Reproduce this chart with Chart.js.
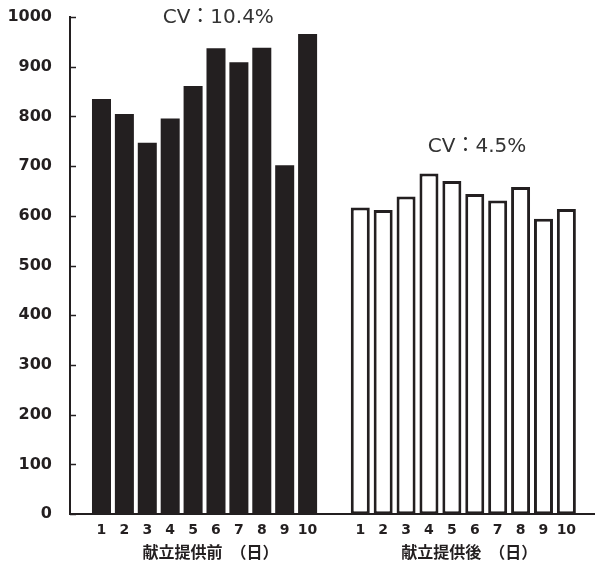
<!DOCTYPE html>
<html>
<head>
<meta charset="utf-8">
<script src="https://cdn.jsdelivr.net/npm/chart.js@4/dist/chart.umd.min.js"></script>
<style>
    html, body { margin: 0; padding: 0; background: #fff; }
    #wrap { width: 595px; height: 569px; }
</style>
</head>
<body>
<div id="wrap"><canvas id="chart"></canvas></div>
<script>
// data
const dayLabels = ["1", "2", "3", "4", "5", "6", "7", "8", "9", "10"];
const beforeValues = [835, 805, 747, 796, 861, 937, 909, 938, 702, 966];
const afterValues = [617, 612, 639, 685, 670, 644, 631, 658, 594, 614];
const groupLabels = ["献立提供前　（日）", "献立提供後　（日）"];
const cvLabels = ["CV：10.4%", "CV：4.5%"];
const yTicks = [0, 100, 200, 300, 400, 500, 600, 700, 800, 900, 1000];

// x positions on a linear axis so the gap between the two groups can be set freely
const groupGap = 11.3;
const beforeX = dayLabels.map((d, i) => i + 1);
const afterX = dayLabels.map((d, i) => i + 1 + groupGap);
const allX = beforeX.concat(afterX);

// where the CV notes sit, in axis units
const cvAnchors = [{ x: 6.1, y: 988 }, { x: 17.4, y: 728 }];

const ink = "#231f20";

const extras = {
    id: "extras",
    afterDraw(chart) {
        const c = chart.ctx;
        const xs = chart.scales.x;
        const ys = chart.scales.y;
        const area = chart.chartArea;
        c.save();

        // y tick marks pointing inward
        c.strokeStyle = ink;
        c.lineWidth = 1.5;
        yTicks.forEach(v => {
            const py = Math.round(ys.getPixelForValue(v)) + 0.5;
            c.beginPath();
            c.moveTo(area.left, py);
            c.lineTo(area.left + 6, py);
            c.stroke();
        });

        // group labels under the day numbers
        c.fillStyle = ink;
        c.font = "bold 16px 'Noto Sans CJK JP'";
        c.textAlign = "center";
        c.textBaseline = "middle";
        [beforeX, afterX].forEach((xsGroup, g) => {
            const mid = (xs.getPixelForValue(xsGroup[0]) + xs.getPixelForValue(xsGroup[xsGroup.length - 1])) / 2;
            c.fillText(groupLabels[g], mid + 6, 552);
        });

        // CV notes
        c.fillStyle = "#333333";
        c.font = "20px 'DejaVu Sans', 'Noto Sans CJK JP'";
        c.textBaseline = "alphabetic";
        cvAnchors.forEach((a, i) => {
            c.fillText(cvLabels[i], xs.getPixelForValue(a.x), ys.getPixelForValue(a.y));
        });
        c.restore();
    }
};

const ctx = document.getElementById("chart").getContext("2d");
const chart = new Chart(ctx, {
    type: "bar",
    data: {
        datasets: [
            {
                label: "献立提供前",
                data: beforeValues.map((v, i) => ({ x: beforeX[i], y: v })),
                backgroundColor: ink,
                borderColor: ink,
                borderWidth: 0
            },
            {
                label: "献立提供後",
                data: afterValues.map((v, i) => ({ x: afterX[i], y: v })),
                backgroundColor: "#ffffff",
                borderColor: ink,
                borderWidth: 3,
                borderSkipped: false
            }
        ]
    },
    options: {
        responsive: true,
        maintainAspectRatio: false,
        animation: false,
        grouped: false,
        barPercentage: 0.83,
        categoryPercentage: 1,
        layout: {
            padding: { top: 17, right: 0, bottom: 22, left: 0 }
        },
        plugins: {
            legend: { display: false },
            tooltip: { enabled: false }
        },
        scales: {
            x: {
                type: "linear",
                offset: false,
                min: -0.375,
                max: 22.55,
                grid: { display: false, drawTicks: false, offset: false },
                border: { display: true, color: ink, width: 2 },
                afterBuildTicks: scale => {
                    scale.ticks = allX.map(v => ({ value: v }));
                },
                ticks: {
                    autoSkip: false,
                    maxRotation: 0,
                    padding: 8,
                    color: ink,
                    font: { family: "'DejaVu Sans'", size: 14, weight: "bold" },
                    callback: (value, index) => dayLabels[index % dayLabels.length]
                }
            },
            y: {
                min: 0,
                max: 1000,
                grid: { display: false, drawTicks: false },
                border: { display: true, color: ink, width: 2 },
                afterFit: scale => {
                    scale.width = 70;
                    scale.paddingTop = 10;
                    scale.paddingBottom = 10;
                },
                afterBuildTicks: scale => {
                    scale.ticks = yTicks.map(v => ({ value: v }));
                },
                ticks: {
                    padding: 18,
                    color: ink,
                    font: { family: "'DejaVu Sans'", size: 16, weight: "bold" },
                    callback: value => String(value)
                }
            }
        }
    },
    plugins: [extras]
});
</script>
</body>
</html>
